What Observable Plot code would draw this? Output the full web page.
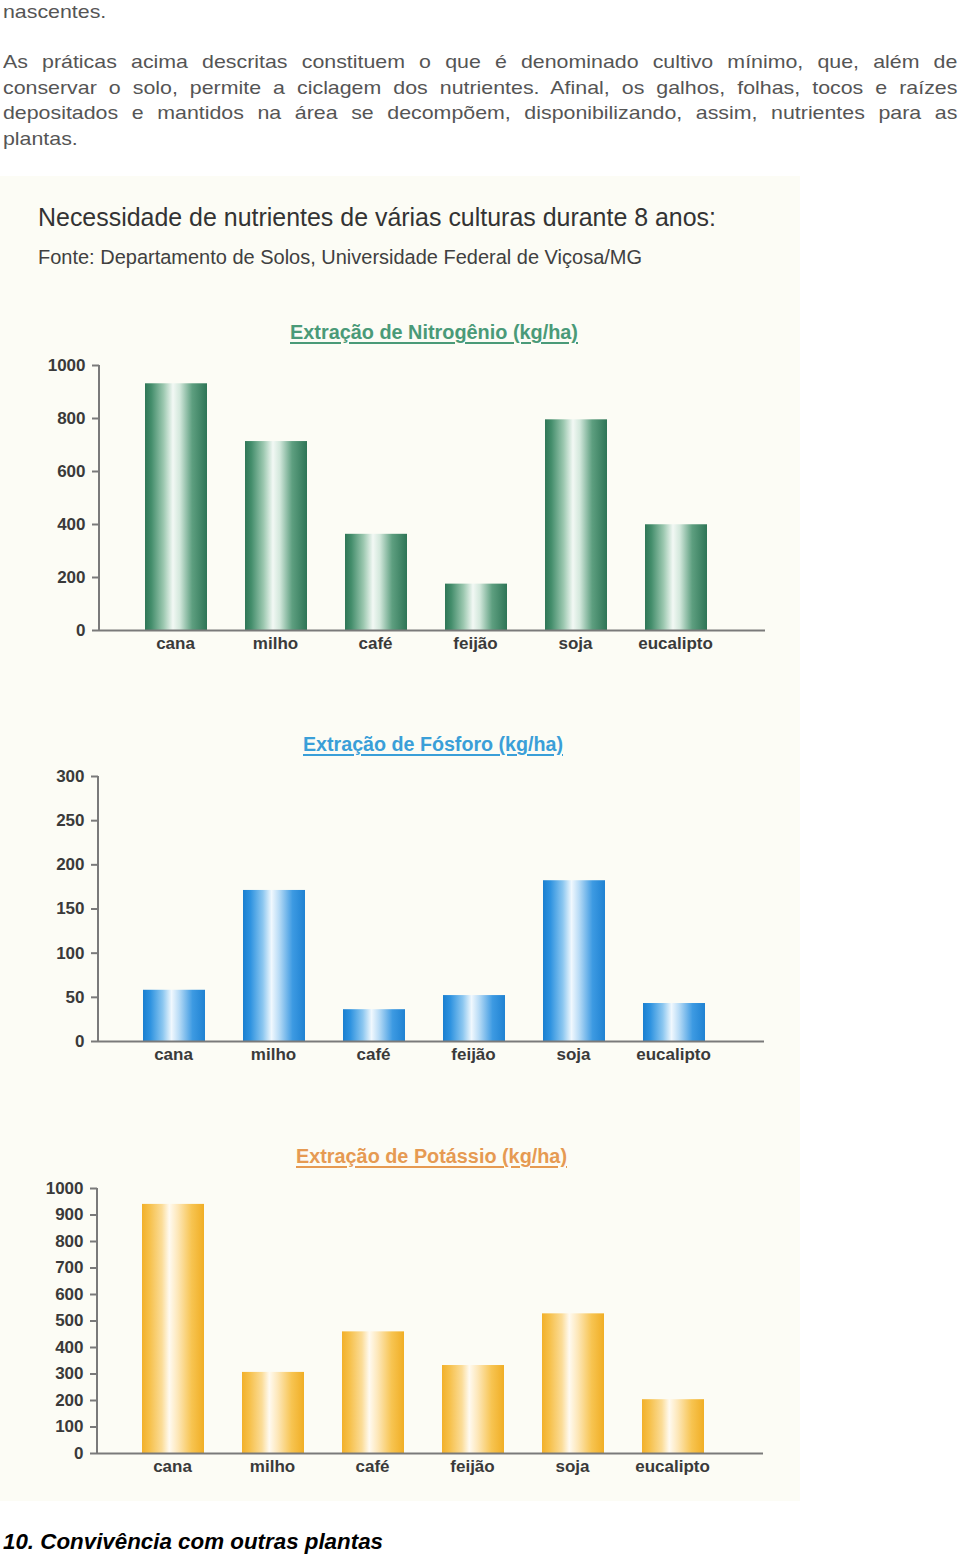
<!DOCTYPE html>
<html>
<head>
<meta charset="utf-8">
<script src="https://cdn.jsdelivr.net/npm/d3@7"></script>
<script src="https://cdn.jsdelivr.net/npm/@observablehq/plot@0.6"></script>
<style>
  html, body { margin: 0; padding: 0; background: #ffffff; }
  #page { position: relative; width: 960px; height: 1556px; overflow: hidden; font-family: "Liberation Sans", Arial, sans-serif; }
  .para { position: absolute; left: 3px; width: 827px; transform: scaleX(1.154); transform-origin: 0 0;
          font-size: 18.5px; line-height: 25.7px; color: #555; }
  .para div { text-align: justify; text-align-last: justify; white-space: nowrap; }
  .para div.last { text-align-last: left; }
  #panel { position: absolute; left: 0; top: 176px; width: 800px; height: 1325px; background: #fcfcf5; }
  .fit { position: absolute; white-space: nowrap; line-height: 1; transform-origin: 0 0; }
  .chart { position: absolute; left: 0; }
</style>
</head>
<body>
<div id="page">
  <div class="para" style="top:-1px"><div class="last">nascentes.</div></div>
  <div class="para" style="top:49px">
    <div>As práticas acima descritas constituem o que é denominado cultivo mínimo, que, além de</div>
    <div>conservar o solo, permite a ciclagem dos nutrientes. Afinal, os galhos, folhas, tocos e raízes</div>
    <div>depositados e mantidos na área se decompõem, disponibilizando, assim, nutrientes para as</div>
    <div class="last">plantas.</div>
  </div>
  <div id="panel"></div>
</div>
<script>
// ---------- data ----------
const categories = ["cana", "milho", "café", "feijão", "soja", "eucalipto"];
const nitrogenio = [931, 713, 363, 175, 795, 399];
const fosforo   = [58, 171, 36, 52, 182, 43];
const potassio  = [940, 306, 459, 332, 527, 203];
const ticksN = [0, 200, 400, 600, 800, 1000];
const ticksP = [0, 50, 100, 150, 200, 250, 300];
const ticksK = [0, 100, 200, 300, 400, 500, 600, 700, 800, 900, 1000];
const mainTitle = "Necessidade de nutrientes de várias culturas durante 8 anos:";
const sourceText = "Fonte: Departamento de Solos, Universidade Federal de Viçosa/MG";
const titleN = "Extração de Nitrogênio (kg/ha)";
const titleP = "Extração de Fósforo (kg/ha)";
const titleK = "Extração de Potássio (kg/ha)";
const headingText = "10. Convivência com outras plantas";

// ---------- styles ----------
const stopsN = [[0, "#2f7657"], [0.1, "#438d6b"], [0.3, "#9cc8b0"], [0.45, "#f2f8f4"], [0.56, "#d3e8dc"], [0.76, "#5e9f80"], [1, "#2e7556"]];
const stopsP = [[0, "#1a7fd0"], [0.12, "#2f93e0"], [0.32, "#8cc7f0"], [0.46, "#f0f8fe"], [0.58, "#b9dcf6"], [0.8, "#3d9ae2"], [1, "#1f82d2"]];
const stopsK = [[0, "#f2b02a"], [0.12, "#f6c04a"], [0.32, "#fbdc97"], [0.44, "#fffaf0"], [0.58, "#fde7b8"], [0.8, "#f7c451"], [1, "#f0ae25"]];
const axisColor = "#7a7a7a";
const labelColor = "#3a3a3a";

const page = document.getElementById("page");

function fitText(text, {x, baseline, size, width, anchor = "start", color = "#333", weight = "normal", style = "normal", underline = false, family = '"Liberation Sans", Arial, sans-serif'}) {
  const el = document.createElement("span");
  el.className = "fit";
  el.textContent = text;
  el.style.fontSize = size + "px";
  el.style.fontWeight = weight;
  el.style.fontStyle = style;
  el.style.color = color;
  el.style.fontFamily = family;
  if (underline) { el.style.textDecoration = "underline"; el.style.textUnderlineOffset = "3px"; }
  page.appendChild(el);
  const w = el.getBoundingClientRect().width;
  const s = width / w;
  const left = anchor === "middle" ? x - width / 2 : x;
  el.style.left = left + "px";
  el.style.top = (baseline - 0.8465 * size) + "px";
  el.style.transform = `scaleX(${s})`;
  return el;
}

fitText(mainTitle, {x: 38, baseline: 226, size: 26, width: 678, color: "#333"});
fitText(sourceText, {x: 38, baseline: 264, size: 20.5, width: 604, color: "#404040"});
fitText(titleN, {x: 434, baseline: 339, size: 20, width: 288, anchor: "middle", color: "#4a9a78", weight: "bold", underline: true});
fitText(titleP, {x: 433, baseline: 751, size: 20, width: 260, anchor: "middle", color: "#3a9fd8", weight: "bold", underline: true});
fitText(titleK, {x: 431, baseline: 1163, size: 20, width: 271, anchor: "middle", color: "#e69a52", weight: "bold", underline: true});
fitText(headingText, {x: 3, baseline: 1550, size: 22, width: 380, color: "#000", weight: "bold", style: "italic"});

function makeChart({values, ticks, max, id, stops, top, marginLeft, marginRight, xRange}) {
  const data = categories.map((c, i) => ({cat: c, v: values[i]}));
  const decor = (index, scales, vals, dims) => {
    const g = d3.create("svg:g");
    const lg = g.append("defs").append("linearGradient").attr("id", id)
      .attr("x1", 0).attr("x2", 1).attr("y1", 0).attr("y2", 0);
    stops.forEach(([o, c]) => lg.append("stop").attr("offset", o).attr("stop-color", c));
    g.append("line")
      .attr("x1", dims.marginLeft).attr("x2", dims.marginLeft)
      .attr("y1", scales.y(0)).attr("y2", scales.y(max))
      .attr("stroke", axisColor).attr("stroke-width", 2);
    return g.node();
  };
  const svg = Plot.plot({
    width: 800,
    height: 366,
    marginTop: 60,
    marginBottom: 41,
    marginLeft,
    marginRight,
    style: {background: "transparent", fontFamily: '"Liberation Sans", Arial, sans-serif', overflow: "visible"},
    x: {domain: categories, range: xRange, paddingInner: 0.38, paddingOuter: 0.19, label: null},
    y: {domain: [0, max], label: null},
    marks: [
      decor,
      Plot.barY(data, {x: "cat", y: "v", fill: `url(#${id})`}),
      Plot.ruleY([0], {stroke: axisColor, strokeWidth: 2}),
      Plot.axisY({ticks, tickSize: 7, tickPadding: 7, stroke: axisColor, strokeWidth: 2, fill: labelColor,
                  fontSize: 17, fontWeight: "bold", tickFormat: d => String(d), label: null}),
      Plot.axisX({tickSize: 0, tickPadding: 6, fill: labelColor, fontSize: 17, fontWeight: "bold", label: null, dx: -1})
    ]
  });
  svg.classList.add("chart");
  svg.style.top = top + "px";
  page.appendChild(svg);
}

makeChart({values: nitrogenio, ticks: ticksN, max: 1000, id: "gradN", stops: stopsN, top: 305, marginLeft: 99, marginRight: 35, xRange: [126, 726]});
makeChart({values: fosforo, ticks: ticksP, max: 300, id: "gradP", stops: stopsP, top: 716, marginLeft: 98, marginRight: 36, xRange: [124, 724]});
makeChart({values: potassio, ticks: ticksK, max: 1000, id: "gradK", stops: stopsK, top: 1128, marginLeft: 97, marginRight: 37, xRange: [123, 723]});
</script>
</body>
</html>
